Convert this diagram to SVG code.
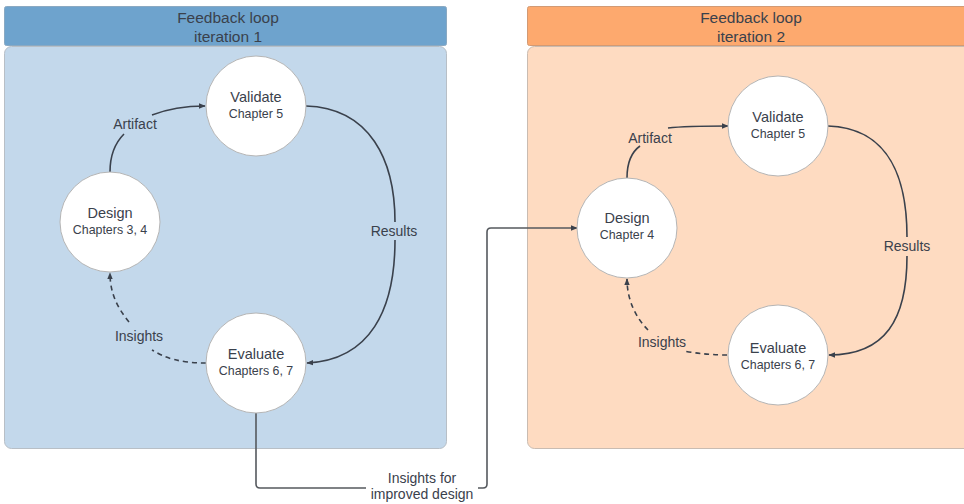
<svg xmlns="http://www.w3.org/2000/svg" width="964" height="504" viewBox="0 0 964 504">
  <style>
    text { font-family: "Liberation Sans", Arial, sans-serif; fill: #3a414c; text-anchor: middle; }
    .hdr { font-size: 15.5px; }
    .title { font-size: 14.5px; }
    .sub { font-size: 12.4px; }
    .lbl { font-size: 14px; }
    .node circle { fill: #ffffff; stroke: #b5b5b5; stroke-width: 1; }
    .edge { fill: none; stroke: #3a414c; stroke-width: 1.6; }
    .dash { stroke-dasharray: 5 4; }
  </style>
  <defs>
    <marker id="arrow" viewBox="0 0 10 10" refX="9" refY="5" markerWidth="7" markerHeight="7" markerUnits="userSpaceOnUse" orient="auto">
      <path d="M0,1 L10,5 L0,9 Z" fill="#3a414c"/>
    </marker>
  </defs>

  <rect width="964" height="504" fill="#ffffff"/>

  <!-- Iteration 1 panel -->
  <g id="panel-1">
    <rect x="4.5" y="46.5" width="442" height="402" rx="7" fill="#c3d8eb" stroke="#b8bfc6"/>
    <rect x="4.5" y="6.5" width="442" height="39" rx="2" fill="#6ea3cd" stroke="#8aa9c2"/>
    <text class="hdr" x="228" y="23">Feedback loop</text>
    <text class="hdr" x="228" y="42">iteration 1</text>
  </g>

  <!-- Iteration 2 panel -->
  <g id="panel-2">
    <rect x="527.5" y="46.5" width="450" height="402" rx="7" fill="#fedbc1" stroke="#c9bcb2"/>
    <rect x="527.5" y="6.5" width="450" height="39" rx="2" fill="#fda96e" stroke="#d29a74"/>
    <text class="hdr" x="751" y="23">Feedback loop</text>
    <text class="hdr" x="751" y="42">iteration 2</text>
  </g>

  <!-- Connectors -->
  <g id="connectors">
    <!-- iteration 1 -->
    <path class="edge" d="M110,172 C110,150 118,140 124,134" />
    <path class="edge" d="M152,115 C170,108 185,106 205,106" marker-end="url(#arrow)"/>
    <text class="lbl" x="135" y="129">Artifact</text>

    <path class="edge" d="M306,106 C370,108 395,160 395,222"/>
    <path class="edge" d="M395,240 C395,310 370,360 307,363" marker-end="url(#arrow)"/>
    <text class="lbl" x="394" y="236">Results</text>

    <path class="edge dash" d="M206,363 C180,363 165,358 152,350"/>
    <path class="edge dash" d="M129,322 C115,305 110,290 110,273" marker-end="url(#arrow)"/>
    <text class="lbl" x="139" y="341">Insights</text>

    <!-- between iterations -->
    <path class="edge" d="M256,413 L256,484 Q256,488 260,488 L483,488 Q487,488 487,484 L487,232 Q487,228 491,228 L577,228" marker-end="url(#arrow)" style="stroke:#55595e"/>
    <rect x="366" y="468" width="112" height="36" fill="#ffffff"/>
    <text class="lbl" x="422" y="483">Insights for</text>
    <text class="lbl" x="422" y="499">improved design</text>

    <!-- iteration 2 -->
    <path class="edge" d="M627,178 C627,160 633,151 640,146"/>
    <path class="edge" d="M668,128 C685,126 705,126 728,126" marker-end="url(#arrow)"/>
    <text class="lbl" x="650" y="143">Artifact</text>

    <path class="edge" d="M828,126 C890,128 907,180 907,237"/>
    <path class="edge" d="M907,256 C907,320 885,355 829,355" marker-end="url(#arrow)"/>
    <text class="lbl" x="907" y="251">Results</text>

    <path class="edge dash" d="M727,355 C715,355 700,354 684,351"/>
    <path class="edge dash" d="M648,330 C636,318 627,300 627,279" marker-end="url(#arrow)"/>
    <text class="lbl" x="662" y="347">Insights</text>
  </g>

  <!-- Nodes, iteration 1 -->
  <g id="validate-1" class="node">
    <circle cx="256" cy="106" r="50"/>
    <text class="title" x="256" y="102">Validate</text>
    <text class="sub" x="256" y="118">Chapter 5</text>
  </g>
  <g id="design-1" class="node">
    <circle cx="110" cy="222" r="50"/>
    <text class="title" x="110" y="218">Design</text>
    <text class="sub" x="110" y="234">Chapters 3, 4</text>
  </g>
  <g id="evaluate-1" class="node">
    <circle cx="256" cy="363" r="50"/>
    <text class="title" x="256" y="359">Evaluate</text>
    <text class="sub" x="256" y="375">Chapters 6, 7</text>
  </g>

  <!-- Nodes, iteration 2 -->
  <g id="validate-2" class="node">
    <circle cx="778" cy="126" r="50"/>
    <text class="title" x="778" y="122">Validate</text>
    <text class="sub" x="778" y="138">Chapter 5</text>
  </g>
  <g id="design-2" class="node">
    <circle cx="627" cy="228" r="50"/>
    <text class="title" x="627" y="223">Design</text>
    <text class="sub" x="627" y="239">Chapter 4</text>
  </g>
  <g id="evaluate-2" class="node">
    <circle cx="778" cy="355" r="50"/>
    <text class="title" x="778" y="353">Evaluate</text>
    <text class="sub" x="778" y="369">Chapters 6, 7</text>
  </g>
</svg>
